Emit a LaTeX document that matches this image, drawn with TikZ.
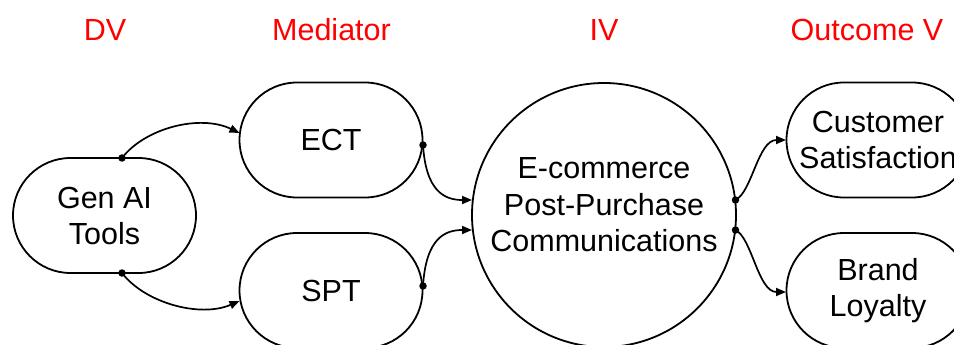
\documentclass[tikz,border=0pt]{standalone}
\usepackage{fontspec}
\setmainfont{Liberation Sans}
\usetikzlibrary{shapes.misc,arrows.meta,calc}
\tikzset{
  stadium/.style={rounded rectangle, draw, line width=1.8pt, minimum width=183pt, minimum height=115pt, inner sep=0pt, align=center, font=\fontsize{30.5}{36}\selectfont},
  bigcirc/.style={circle, draw, line width=1.8pt, minimum size=264pt, inner sep=0pt},
  body/.style={align=center, font=\fontsize{30.5}{36.5}\selectfont},
  head/.style={text=red, anchor=base, font=\fontsize{30.5}{36}\selectfont},
  conn/.style={line width=1.7pt, -{Triangle[length=10pt,width=8pt]}},
  dotm/.style={circle, fill=black, inner sep=0pt, minimum size=7.5pt}
}
\begin{document}
\begin{tikzpicture}[x=1pt,y=-1pt]
\useasboundingbox (0,0) rectangle (954,345);
% headers
\node[head] (hdv) at (105,41) {DV};
\node[head] (hmed) at (331.5,41) {Mediator};
\node[head] (hiv) at (604,41) {IV};
\node[head] (hout) at (867,41) {Outcome V};
% nodes
\node[stadium] (gen) at (104.5,215.5) {Gen AI\\Tools};
\node[stadium] (ect) at (331,140) {ECT};
\node[stadium] (spt) at (331,290.5) {SPT};
\node[bigcirc] (iv) at (604,215) {};
\node[body] (ivt) at (604,205) {E-commerce\\Post-Purchase\\Communications};
\node[stadium] (cs) at (878,140) {Customer\\Satisfaction};
\node[stadium] (bl) at (878,290.5) {Brand\\Loyalty};
% anchor coordinates
\coordinate (g1) at (122,158);
\coordinate (g2) at (122,273);
\coordinate (e1) at (423,145);
\coordinate (s1) at (423,286);
\coordinate (c1) at (735.5,200);
\coordinate (c2) at (735.5,230);
\coordinate (ein) at (239.5,133);
\coordinate (sin) at (239.5,301);
\coordinate (iin1) at (472,200);
\coordinate (iin2) at (472,230);
\coordinate (csin) at (786,140);
\coordinate (blin) at (786,292);
% connectors
\draw[conn] (g1) .. controls (145,128) and (200,114) .. (ein);
\draw[conn] (g2) .. controls (145,303) and (200,318) .. (sin);
\draw[conn] (e1) .. controls (426,192) and (445,200) .. (iin1);
\draw[conn] (s1) .. controls (426,238) and (445,230) .. (iin2);
\draw[conn] (c1) .. controls (752,192) and (758,140) .. (csin);
\draw[conn] (c2) .. controls (752,238) and (758,292) .. (blin);
% dots
\foreach \p in {g1,g2,e1,s1,c1,c2} \node[dotm] (d\p) at (\p) {};
\end{tikzpicture}
\end{document}
